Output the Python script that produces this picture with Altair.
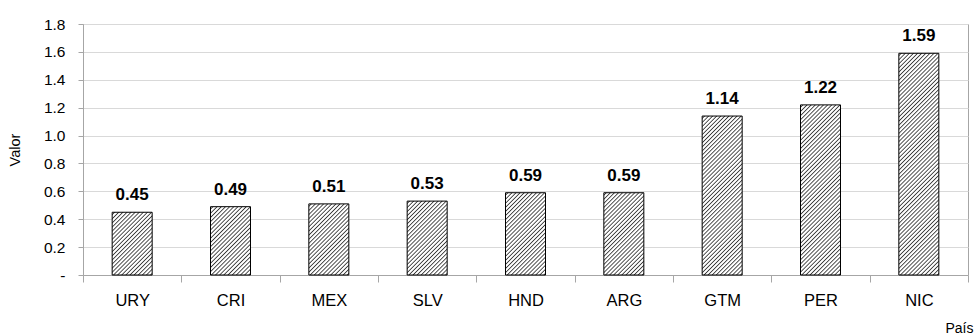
import math
import altair as alt
import pandas as pd

# Valores por país
paises = ["URY", "CRI", "MEX", "SLV", "HND", "ARG", "GTM", "PER", "NIC"]
valores = [0.45, 0.49, 0.51, 0.53, 0.59, 0.59, 1.14, 1.22, 1.59]
ticks_y = [0.0, 0.2, 0.4, 0.6, 0.8, 1.0, 1.2, 1.4, 1.6, 1.8]

df = pd.DataFrame({"pais": paises, "valor": valores})

FONT = "Liberation Sans"
W, H = 885, 251          # plot area in pixels
Y_MAX = 1.8
BAR_W = 40
HATCH_PERIOD = 2.9       # perpendicular spacing of the diagonal hatch, px


def hatch(value):
    """Diagonal '////' hatch as a striped linear gradient sized to one bar."""
    w = BAR_W
    h = max(value / Y_MAX * H, 1.0)
    t = (w + h) / (w * w + h * h)
    n = max(int(round((w + h) / math.sqrt(2) / HATCH_PERIOD)), 1)
    stops = []
    for i in range(n):
        stops.append(alt.GradientStop(offset=i / n, color="#ffffff"))
        stops.append(alt.GradientStop(offset=(i + 0.3) / n, color="#ffffff"))
        stops.append(alt.GradientStop(offset=(i + 0.6) / n, color="#3a3a3a"))
        stops.append(alt.GradientStop(offset=(i + 0.9) / n, color="#ffffff"))
    stops.append(alt.GradientStop(offset=1.0, color="#ffffff"))
    return alt.LinearGradient(gradient="linear", stops=stops,
                              x1=0, y1=0, x2=t * w, y2=t * h)


x_enc = alt.X(
    "pais:N",
    sort=paises,
    scale=alt.Scale(domain=paises, paddingInner=0, paddingOuter=0),
    axis=alt.Axis(
        title="País",
        labelAngle=0,
        labelFont=FONT,
        labelFontSize=16.5,
        labelColor="#000000",
        labelPadding=10,
        tickBand="extent",
        tickSize=7,
        tickColor="#a6a6a6",
        domainColor="#a6a6a6",
        titleFont=FONT,
        titleFontSize=14,
        titleFontWeight="normal",
        titleColor="#000000",
        titleAnchor="end",
        titleAlign="right",
        titleBaseline="alphabetic",
        titleX=890,
        titleY=57,
    ),
)

# accounting-style zero: a dash followed by figure spaces
y_label_expr = (
    "datum.value == 0 ? '-\u2007\u2007' : format(datum.value, '.1f')"
)

y_enc = alt.Y(
    "valor:Q",
    scale=alt.Scale(domain=[0, Y_MAX], nice=False, zero=True),
    axis=alt.Axis(
        title="Valor",
        values=ticks_y,
        labelExpr=y_label_expr,
        labelFont=FONT,
        labelFontSize=15.5,
        labelColor="#000000",
        labelPadding=13,
        tickSize=5,
        tickColor="#a6a6a6",
        domainColor="#a6a6a6",
        grid=True,
        gridColor="#d9d9d9",
        titleFont=FONT,
        titleFontSize=14.5,
        titleFontWeight="normal",
        titleColor="#000000",
        titleAngle=-90,
        titleAlign="center",
        titleBaseline="middle",
        titleX=-68,
        titleY=H / 2,
    ),
)

base = alt.Chart(df)

bars = [
    base.transform_filter(alt.datum.pais == p)
    .mark_bar(width=BAR_W, fill=hatch(v), stroke="#000000", strokeWidth=1)
    .encode(x=x_enc, y=y_enc)
    for p, v in zip(paises, valores)
]

labels = base.mark_text(
    font=FONT, fontSize=17, fontWeight="bold", color="#000000",
    baseline="alphabetic", dy=-12,
).encode(
    x=x_enc,
    y=y_enc,
    text=alt.Text("valor:Q", format=".2f"),
)

chart = (
    alt.layer(*bars, labels)
    .properties(
        width=W,
        height=H,
        autosize=alt.AutoSizeParams(type="none"),
        padding={"left": 83, "top": 24, "right": 8, "bottom": 61},
        background="#ffffff",
    )
    .configure_view(stroke="#a6a6a6", strokeWidth=1)
)

chart.save("out.html", embed_options={"renderer": "svg", "actions": False})
